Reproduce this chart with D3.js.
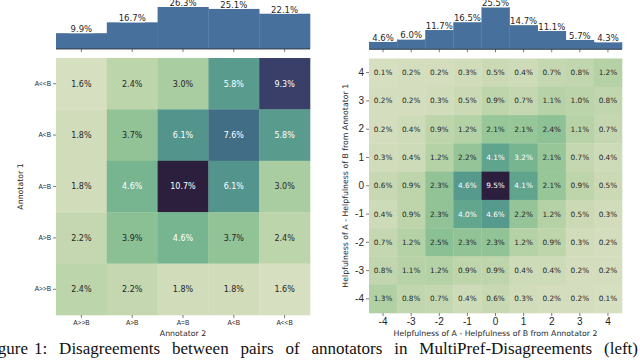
<!DOCTYPE html>
<html>
<head>
<meta charset="utf-8">
<script src="https://cdn.jsdelivr.net/npm/d3@7"></script>
<style>
  body { margin: 0; background: #fff; }
  svg { display: block; font-family: "DejaVu Sans", sans-serif; }
</style>
</head>
<body>
<svg id="chart" width="640" height="361"></svg>
<script>
'use strict';

// left panel: 5-point preference scale
var leftCols = ["A>>B", "A>B", "A=B", "A<B", "A<<B"];
var leftRows = ["A<<B", "A<B", "A=B", "A>B", "A>>B"];
var leftValues = [
    [1.6, 2.4, 3.0, 5.8, 9.3],
    [1.8, 3.7, 6.1, 7.6, 5.8],
    [1.8, 4.6, 10.7, 6.1, 3.0],
    [2.2, 3.9, 4.6, 3.7, 2.4],
    [2.4, 2.2, 1.8, 1.8, 1.6]
];
var leftBars = [9.9, 16.7, 26.3, 25.1, 22.1];

// right panel: helpfulness differences
var rightCols = ["-4", "-3", "-2", "-1", "0", "1", "2", "3", "4"];
var rightRows = ["4", "3", "2", "1", "0", "-1", "-2", "-3", "-4"];
var rightValues = [
    [0.1, 0.2, 0.2, 0.3, 0.5, 0.4, 0.7, 0.8, 1.2],
    [0.2, 0.2, 0.3, 0.5, 0.9, 0.7, 1.1, 1.0, 0.8],
    [0.2, 0.4, 0.9, 1.2, 2.1, 2.1, 2.4, 1.1, 0.7],
    [0.3, 0.4, 1.2, 2.2, 4.1, 3.2, 2.1, 0.7, 0.4],
    [0.6, 0.9, 2.3, 4.6, 9.5, 4.1, 2.1, 0.9, 0.5],
    [0.4, 0.9, 2.3, 4.0, 4.6, 2.2, 1.2, 0.5, 0.3],
    [0.7, 1.2, 2.5, 2.3, 2.3, 1.2, 0.9, 0.3, 0.2],
    [0.8, 1.1, 1.2, 0.9, 0.9, 0.4, 0.4, 0.2, 0.2],
    [1.3, 0.8, 0.7, 0.4, 0.6, 0.3, 0.2, 0.2, 0.1]
];
var rightBars = [4.6, 6.0, 11.7, 16.5, 25.5, 14.7, 11.1, 5.7, 4.3];

var captionWords = ["1:", "Disagreements", "between", "pairs", "of", "annotators",
    "in", "MultiPref-Disagreements", "(left)"];

var BAR_COLOR = "#47709c";
var TEXT_DARK = "#262626";

// seaborn cubehelix_palette(start=.5, rot=-.75), light .85 -> dark .15
function cubehelix(t) {
    var s = 0.5, r = -0.75, h = 0.8, gamma = 1;
    var x = 0.85 - 0.7 * t;
    var xg = Math.pow(x, gamma);
    var a = h * xg * (1 - xg) / 2;
    var phi = 2 * Math.PI * (s / 3 + r * x);
    function ch(p0, p1) {
        var v = xg + a * (p0 * Math.cos(phi) + p1 * Math.sin(phi));
        return Math.max(0, Math.min(1, v));
    }
    return [ch(-0.14861, 1.78277), ch(-0.29227, -0.90649), ch(1.97294, 0.0)];
}

function rgbStr(c) {
    return d3.rgb(c[0] * 255, c[1] * 255, c[2] * 255).formatHex();
}

function luminance(c) {
    var lin = c.map(function (v) {
        return v <= 0.03928 ? v / 12.92 : Math.pow((v + 0.055) / 1.055, 2.4);
    });
    return 0.2126 * lin[0] + 0.7152 * lin[1] + 0.0722 * lin[2];
}

var svg = d3.select("#chart");

function drawPanel(opts) {
    var g = svg.append("g");
    var x = d3.scaleBand().domain(opts.cols).range([opts.x0, opts.x1]);
    var y = d3.scaleBand().domain(opts.rows).range([opts.y0, opts.y1]);
    var flat = [];
    opts.values.forEach(function (row, i) {
        row.forEach(function (v, j) {
            flat.push({row: opts.rows[i], col: opts.cols[j], v: v});
        });
    });
    var ext = d3.extent(flat, function (d) { return d.v; });
    var t = d3.scaleLinear().domain(ext).range([0, 1]);

    // heatmap cells
    g.selectAll("rect.cell").data(flat).enter()
        .append("rect")
        .attr("class", "cell")
        .attr("x", function (d) { return x(d.col); })
        .attr("y", function (d) { return y(d.row); })
        .attr("width", x.bandwidth() + 0.3)
        .attr("height", y.bandwidth() + 0.3)
        .style("fill", function (d) { return rgbStr(cubehelix(t(d.v))); });

    g.selectAll("text.annot").data(flat).enter()
        .append("text")
        .attr("class", "annot")
        .attr("x", function (d) { return x(d.col) + x.bandwidth() / 2; })
        .attr("y", function (d) { return y(d.row) + y.bandwidth() / 2; })
        .attr("dy", "0.35em")
        .attr("text-anchor", "middle")
        .style("font-size", opts.annotSize + "px")
        .style("fill", function (d) {
            return luminance(cubehelix(t(d.v))) > 0.408 ? TEXT_DARK : "#ffffff";
        })
        .text(function (d) { return d.v.toFixed(1) + "%"; });

    // y axis
    var yAxis = g.append("g").attr("transform", "translate(" + opts.x0 + ",0)")
        .call(d3.axisLeft(y).tickSize(3).tickPadding(2));
    yAxis.select(".domain").remove();
    yAxis.selectAll("line").attr("stroke", TEXT_DARK).attr("stroke-width", 0.6);
    yAxis.selectAll("text").style("font-size", opts.tickSize + "px").style("fill", TEXT_DARK)
        .attr("font-family", null);

    // x axis
    var xAxis = g.append("g").attr("transform", "translate(0," + opts.y1 + ")")
        .call(d3.axisBottom(x).tickSize(3).tickPadding(2));
    xAxis.select(".domain").remove();
    xAxis.selectAll("line").attr("stroke", TEXT_DARK).attr("stroke-width", 0.6);
    xAxis.selectAll("text").style("font-size", opts.tickSize + "px").style("fill", TEXT_DARK)
        .attr("font-family", null);

    g.append("text")
        .attr("x", (opts.x0 + opts.x1) / 2)
        .attr("y", opts.xTitleY)
        .attr("text-anchor", "middle")
        .style("font-size", "7.8px")
        .style("fill", TEXT_DARK)
        .text(opts.xTitle);

    g.append("text")
        .attr("transform", "translate(" + opts.yTitleX + "," + ((opts.y0 + opts.y1) / 2) + ") rotate(-90)")
        .attr("text-anchor", "middle")
        .style("font-size", "7.8px")
        .style("fill", TEXT_DARK)
        .text(opts.yTitle);

    // marginal bars on top
    var hb = d3.scaleLinear().domain([0, d3.max(opts.bars)]).range([0, 42]);
    var bars = opts.bars.map(function (v, i) { return {col: opts.cols[i], v: v}; });
    g.selectAll("rect.bar").data(bars).enter()
        .append("rect")
        .attr("class", "bar")
        .attr("x", function (d) { return x(d.col); })
        .attr("y", function (d) { return opts.base - hb(d.v); })
        .attr("width", x.bandwidth() + 0.3)
        .attr("height", function (d) { return hb(d.v); })
        .style("fill", BAR_COLOR);

    g.append("line")
        .attr("x1", opts.x0).attr("x2", opts.x1)
        .attr("y1", opts.base).attr("y2", opts.base)
        .attr("stroke", TEXT_DARK).attr("stroke-width", 0.8);

    g.selectAll("line.btick").data(bars).enter()
        .append("line")
        .attr("class", "btick")
        .attr("x1", function (d) { return x(d.col) + x.bandwidth() / 2; })
        .attr("x2", function (d) { return x(d.col) + x.bandwidth() / 2; })
        .attr("y1", opts.base).attr("y2", opts.base + 3)
        .attr("stroke", TEXT_DARK).attr("stroke-width", 0.6);

    var labels = g.selectAll("g.blabel").data(bars).enter()
        .append("g")
        .attr("class", "blabel")
        .attr("transform", function (d) {
            return "translate(" + (x(d.col) + x.bandwidth() / 2) + "," + (opts.base - hb(d.v) - 4) + ")";
        });
    labels.append("rect")
        .attr("x", -opts.labelW / 2).attr("y", -5)
        .attr("width", opts.labelW).attr("height", 9)
        .style("fill", "#ffffff");
    labels.append("text")
        .attr("text-anchor", "middle")
        .attr("dy", "0.35em")
        .style("font-size", "8.5px")
        .style("fill", TEXT_DARK)
        .text(function (d) { return d.v.toFixed(1) + "%"; });
}

drawPanel({
    cols: leftCols, rows: leftRows, values: leftValues, bars: leftBars,
    x0: 56, x1: 310, y0: 58, y1: 315, base: 49,
    annotSize: 8, tickSize: 6.5, labelW: 25,
    xTitle: "Annotator 2", xTitleY: 336,
    yTitle: "Annotator 1", yTitleX: 23
});

drawPanel({
    cols: rightCols, rows: rightRows, values: rightValues, bars: rightBars,
    x0: 369, x1: 622, y0: 58.5, y1: 313, base: 49.3,
    annotSize: 7.3, tickSize: 10, labelW: 25,
    xTitle: "Helpfulness of A - Helpfulness of B from Annotator 2", xTitleY: 336,
    yTitle: "Helpfulness of A - Helpfulness of B from Annotator 1", yTitleX: 348
});

// caption: justified line, clipped at the page's left edge as in the source
var capFont = "'Liberation Serif', 'DejaVu Serif', serif";
var capY = 354, capStart = 34, capEnd = 638;
svg.append("text")
    .attr("x", 28).attr("y", capY)
    .attr("text-anchor", "end")
    .style("font-family", capFont).style("font-size", "17px").style("fill", "#111")
    .text("Figure");
var capNodes = svg.selectAll("text.caption").data(captionWords).enter()
    .append("text")
    .attr("class", "caption")
    .attr("y", capY)
    .style("font-family", capFont)
    .style("font-size", "17px")
    .style("fill", "#111")
    .text(function (d) { return d; });
var widths = [];
capNodes.each(function () { widths.push(this.getComputedTextLength()); });
var gap = (capEnd - capStart - d3.sum(widths)) / (widths.length - 1);
var cx = capStart;
capNodes.attr("x", function (d, i) {
    var pos = cx;
    cx += widths[i] + gap;
    return pos;
});
</script>
</body>
</html>
